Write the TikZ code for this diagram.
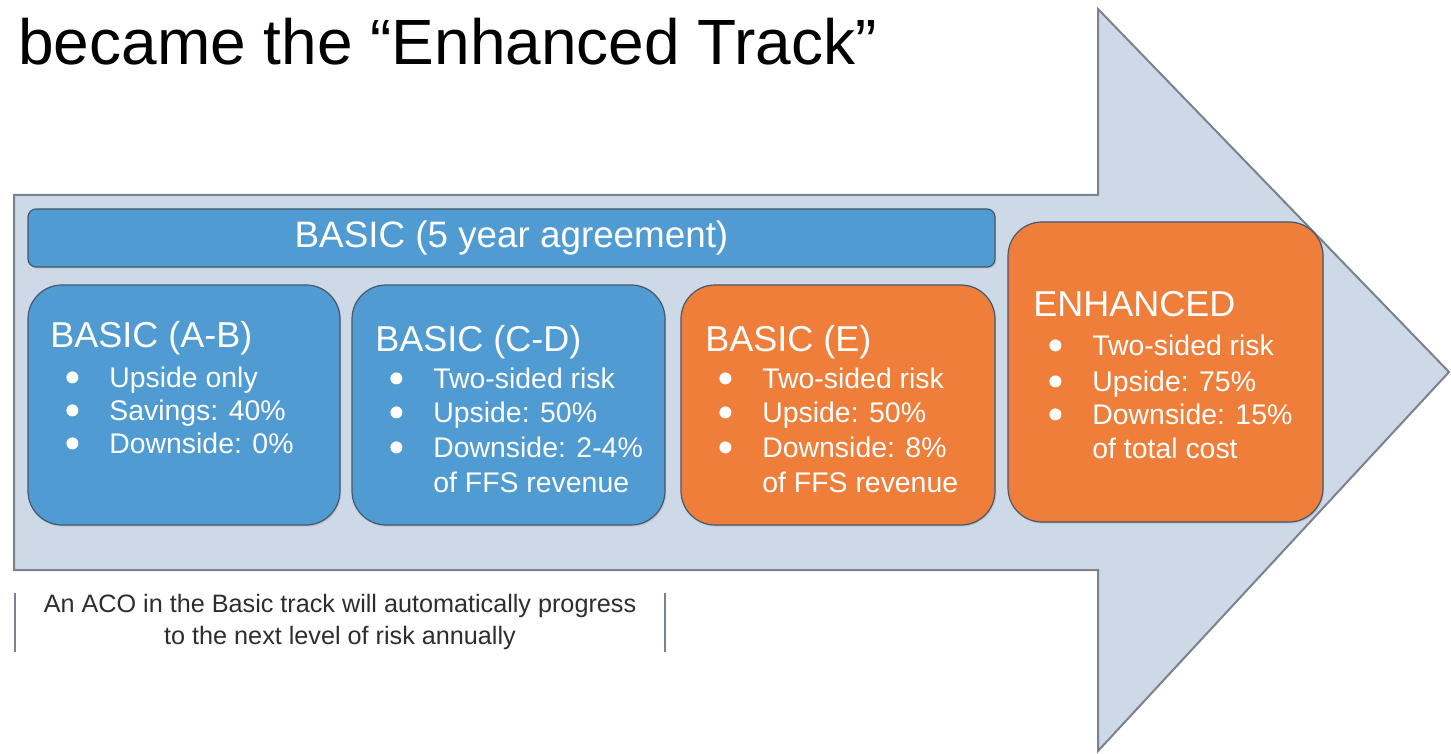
\documentclass[tikz,border=0pt]{standalone}
\usepackage{fontspec}
\setmainfont{Liberation Sans}
\usepackage{xcolor}
\usetikzlibrary{shadows}
\definecolor{arrowfill}{RGB}{206,217,231}
\definecolor{arrowline}{RGB}{122,130,140}
\definecolor{basicblue}{RGB}{80,155,209}
\definecolor{enhancedorange}{RGB}{238,126,58}
\definecolor{boxline}{RGB}{70,88,108}
\definecolor{notetext}{RGB}{45,45,45}
\tikzstyle{level}=[draw=boxline, line width=.6pt, rounded corners=17pt, drop shadow={opacity=.25,shadow xshift=.6pt,shadow yshift=-.8pt}]
\tikzstyle{basic}=[level, fill=basicblue]
\tikzstyle{enhanced}=[level, fill=enhancedorange]
\tikzstyle{heading}=[anchor=base west, text=white, font=\fontsize{18}{22}\selectfont, inner sep=0pt]
\tikzstyle{item}=[anchor=base west, text=white, font=\fontsize{14.2}{17}\selectfont, inner sep=0pt]
\newcommand{\itembullet}{\makebox[21.5pt][l]{\tikz[baseline=0pt]\fill[white] (3pt,4.8pt) circle (3pt);}}

\begin{document}
\begin{tikzpicture}[x=0.5pt,y=-0.5pt]
  \useasboundingbox (0,0) rectangle (1451,754);

  %% Title
  \draw (18,65) node[anchor=base west, inner sep=0pt, font=\fontsize{32}{38}\selectfont] (title) {became the “Enhanced Track”};

  %% The big arrow
  \draw[fill=arrowfill, draw=arrowline, line width=1pt] (14,195) -- (1098,195) -- (1098,9) -- (1449,372) -- (1098,751) -- (1098,570) -- (14,570) -- cycle;

  %% Boxes
  \draw (511.5,238) node[basic, rounded corners=4pt, minimum width=483.5pt, minimum height=29pt] (bar) {};
  \draw (184,405) node[basic, minimum width=156pt, minimum height=120pt] (AB) {};
  \draw (508.5,405) node[basic, minimum width=156.5pt, minimum height=120pt] (CD) {};
  \draw (838,405) node[enhanced, minimum width=157pt, minimum height=120pt] (E) {};
  \draw (1165.5,372) node[enhanced, minimum width=157.5pt, minimum height=150pt] (EN) {};

  \draw (bar.center) node[text=white, font=\fontsize{18.4}{22}\selectfont] (bar-text) {BASIC (5 year agreement)};

  %% BASIC (A-B)
  \draw (50,348) node[heading] (AB-head) {BASIC (A-B)};
  \draw (66,387) node[item] (AB-1) {\itembullet Upside only};
  \draw (66,420) node[item] (AB-2) {\itembullet Savings: 40\%};
  \draw (66,453) node[item] (AB-3) {\itembullet Downside: 0\%};

  %% BASIC (C-D)
  \draw (375,351) node[heading] (CD-head) {BASIC (C-D)};
  \draw (390,388) node[item] (CD-1) {\itembullet Two-sided risk};
  \draw (390,422) node[item] (CD-2) {\itembullet Upside: 50\%};
  \draw (390,457) node[item] (CD-3) {\itembullet Downside: 2-4\%};
  \draw (433,492) node[item] (CD-4) {of FFS revenue};

  %% BASIC (E)
  \draw (705,351) node[heading] (E-head) {BASIC (E)};
  \draw (719,388) node[item] (E-1) {\itembullet Two-sided risk};
  \draw (719,422) node[item] (E-2) {\itembullet Upside: 50\%};
  \draw (719,457) node[item] (E-3) {\itembullet Downside: 8\%};
  \draw (762,492) node[item] (E-4) {of FFS revenue};

  %% ENHANCED
  \draw (1033,316) node[heading] (EN-head) {ENHANCED};
  \draw (1049,355) node[item] (EN-1) {\itembullet Two-sided risk};
  \draw (1049,391) node[item] (EN-2) {\itembullet Upside: 75\%};
  \draw (1049,424) node[item] (EN-3) {\itembullet Downside: 15\%};
  \draw (1092,458) node[item] (EN-4) {of total cost};

  %% Note below the arrow
  \draw[arrowline, line width=.6pt] (15,593) -- (15,652);
  \draw[arrowline, line width=.6pt] (665,593) -- (665,652);
  \draw (340,622) node[align=center, text=notetext, font=\fontsize{12.6}{15.8}\selectfont] (note) {An ACO in the Basic track will automatically progress\\to the next level of risk annually};
\end{tikzpicture}
\end{document}
